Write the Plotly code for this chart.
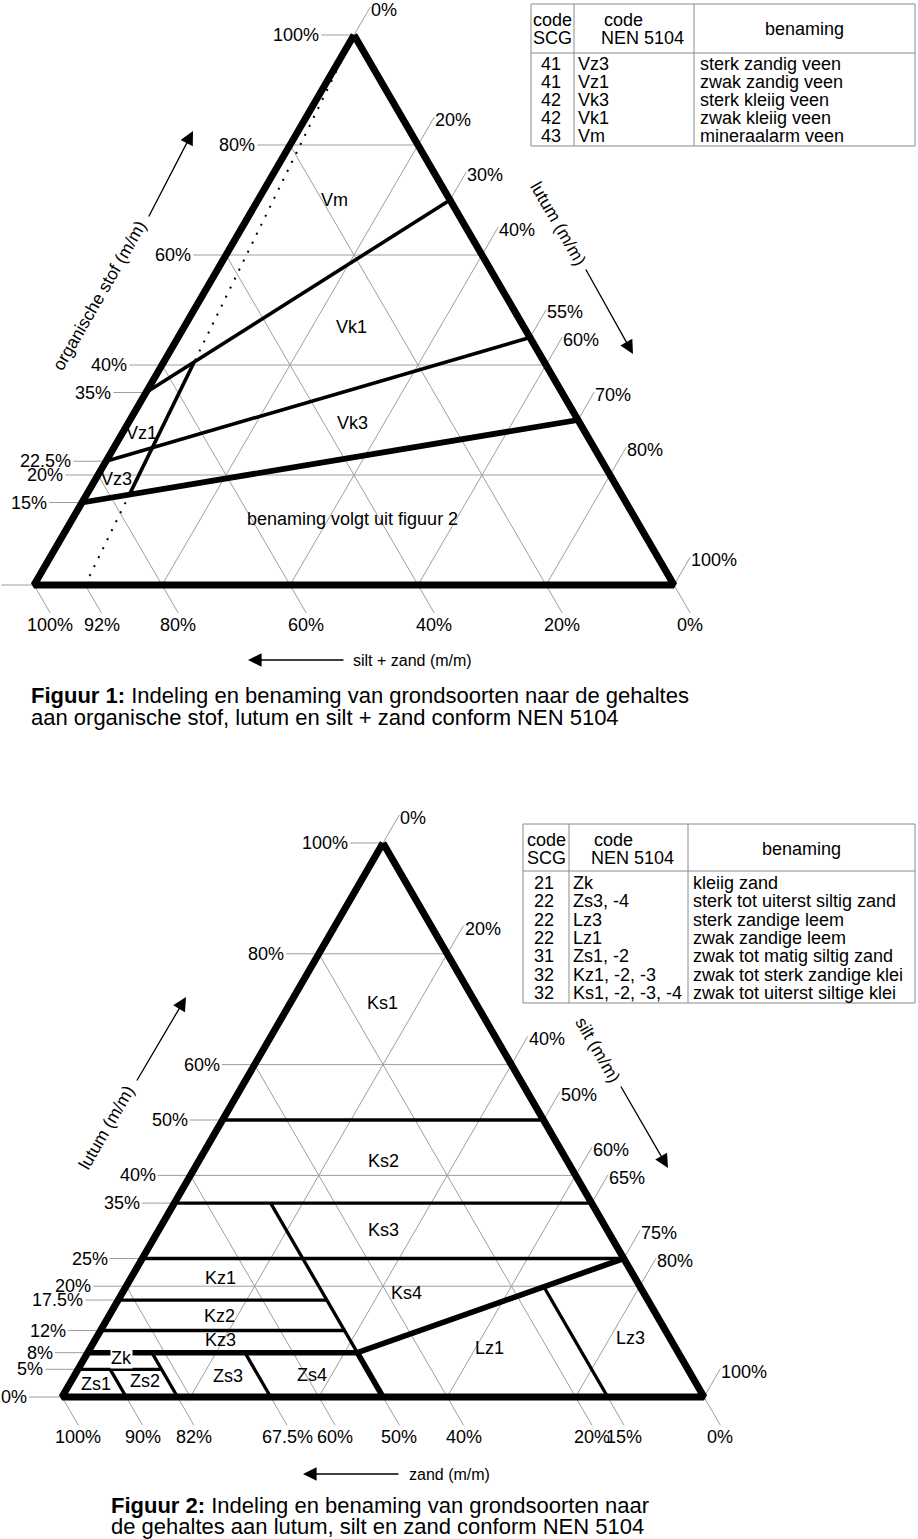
import plotly.graph_objects as go

FONT = "Liberation Sans, Arial, Helvetica, sans-serif"

# ---------------- Figuur 1 : organische stof / lutum / silt + zand ----------------
F1_ORG_TICKS = [100, 80, 60, 40, 35, 22.5, 20, 15, 0]
F1_ORG_LABELS = ["100%", "80%", "60%", "40%", "35%", "22.5%", "20%", "15%", ""]
F1_LUT_TICKS = [0, 20, 30, 40, 55, 60, 70, 80, 100]
F1_LUT_LABELS = ["0%", "20%", "30%", "40%", "55%", "60%", "70%", "80%", "100%"]
F1_SZ_TICKS = [100, 92, 80, 60, 40, 20, 0]
F1_SZ_LABELS = ["100%", "92%", "80%", "60%", "40%", "20%", "0%"]
F1_GRID = [20, 40, 60, 80]

# class boundaries: organische stof at lutum 0  ->  (organische stof, lutum) on the right edge
F1_BOUND_ORG_LEFT = [15, 22.5, 35]
F1_BOUND_ORG_RIGHT = [30, 45, 70]
F1_BOUND_LUT_RIGHT = [70, 55, 30]
F1_BOUND_HEAVY = [True, False, False]
F1_SPLIT_SZ = 92  # silt + zand at the base of the zandig / kleiig split line

F1_REGION_NAMES = ["Vm", "Vk1", "Vk3", "Vz1", "Vz3", "benaming volgt uit figuur 2"]
F1_REGION_ORG = [70, 46.9, 29.5, 27.6, 19.3, 12]
F1_REGION_LUT = [12, 26.2, 35, 3.0, 3.2, 43.8]

F1_TAB_SCG = ["41", "41", "42", "42", "43"]
F1_TAB_NEN = ["Vz3", "Vz1", "Vk3", "Vk1", "Vm"]
F1_TAB_NAME = ["sterk zandig veen", "zwak zandig veen", "sterk kleiig veen",
               "zwak kleiig veen", "mineraalarm veen"]

# ---------------- Figuur 2 : lutum / silt / zand ----------------
F2_LUT_TICKS = [100, 80, 60, 50, 40, 35, 25, 20, 17.5, 12, 8, 5, 0]
F2_LUT_LABELS = ["100%", "80%", "60%", "50%", "40%", "35%", "25%", "20%", "17.5%", "12%", "8%", "5%", "0%"]
F2_SILT_TICKS = [0, 20, 40, 50, 60, 65, 75, 80, 100]
F2_SILT_LABELS = ["0%", "20%", "40%", "50%", "60%", "65%", "75%", "80%", "100%"]
F2_ZAND_TICKS = [100, 90, 82, 67.5, 60, 50, 40, 20, 15, 0]
F2_ZAND_LABELS = ["100%", "90%", "82%", "67.5%", "60%", "50%", "40%", "20%", "15%", "0%"]
F2_GRID = [20, 40, 60, 80]

# horizontal (constant lutum) boundaries, from the left edge to the given zand value
F2_H_LUT = [50, 35, 25, 17.5, 12, 8, 5]
F2_H_ZAND_END = [0, 0, 0, 50, 50, 50, 82]
F2_H_HEAVY = [False, False, False, False, False, True, False]
# constant zand boundaries, from the lower lutum up to the given lutum
F2_Z_ZAND = [50, 50, 90, 82, 67.5]
F2_Z_LUT_LOW = [8, 0, 0, 0, 0]
F2_Z_LUT_TOP = [35, 8, 5, 8, 8]
F2_Z_HEAVY = [False, True, False, False, False]
# Ks4 / Lz boundary (lutum, zand) -> (lutum, zand)
F2_KL_LUT = [8, 25]
F2_KL_ZAND = [50, 0]
F2_LZ_ZAND = 15  # Lz1 / Lz3 boundary

F2_REGION_NAMES = ["Ks1", "Ks2", "Ks3", "Ks4", "Kz1", "Kz2", "Kz3", "Zk",
                   "Zs1", "Zs2", "Zs3", "Zs4", "Lz1", "Lz3"]
F2_REGION_LUT = [71.1, 42.6, 30.1, 18.8, 21.5, 14.6, 10.3, 7.0, 2.3, 2.9, 3.8, 4.0, 8.8, 10.6]
F2_REGION_SILT = [14.4, 28.7, 35.1, 44.3, 13.9, 17.3, 19.5, 5.8, 4.1, 11.5, 24.0, 37.0, 62.2, 83.2]

F2_TAB_SCG = ["21", "22", "22", "22", "31", "32", "32"]
F2_TAB_NEN = ["Zk", "Zs3, -4", "Lz3", "Lz1", "Zs1, -2", "Kz1, -2, -3", "Ks1, -2, -3, -4"]
F2_TAB_NAME = ["kleiig zand", "sterk tot uiterst siltig zand", "sterk zandige leem",
               "zwak zandige leem", "zwak tot matig siltig zand",
               "zwak tot sterk zandige klei", "zwak tot uiterst siltige klei"]

# ---------------- layout constants (page pixels) ----------------
W, H = 918, 1539
F1_BL, F1_BR, F1_TOP = (34, 585), (674, 585), (354, 35)
F2_BL, F2_BR, F2_TOP = (62, 1397), (704, 1397), (383, 843)
TL = 5.1            # tick length in ternary units
GRID_COL = "#9e9e9e"
TAB_COL = "#8a8a8a"
LBL = 18            # label font size
CAP = 22            # caption font size


def tern1(org, lut):
    sz = 100.0 - org - lut
    return ((sz * F1_BL[0] + lut * F1_BR[0] + org * F1_TOP[0]) / 100.0,
            (sz * F1_BL[1] + lut * F1_BR[1] + org * F1_TOP[1]) / 100.0)


def tern2(lut, zand):
    silt = 100.0 - lut - zand
    return ((zand * F2_BL[0] + silt * F2_BR[0] + lut * F2_TOP[0]) / 100.0,
            (zand * F2_BL[1] + silt * F2_BR[1] + lut * F2_TOP[1]) / 100.0)


def intersect(p, q, r, s):
    """intersection of line p-q with line r-s (2-D, any affine coordinates)"""
    d1 = (q[0] - p[0], q[1] - p[1])
    d2 = (s[0] - r[0], s[1] - r[1])
    den = d1[0] * d2[1] - d1[1] * d2[0]
    t = ((r[0] - p[0]) * d2[1] - (r[1] - p[1]) * d2[0]) / den
    return (p[0] + t * d1[0], p[1] + t * d1[1])


fig = go.Figure()


def add_segments(segs, width, color="black", dash=None):
    xs, ys = [], []
    for (a, b) in segs:
        xs += [a[0], b[0], None]
        ys += [a[1], b[1], None]
    fig.add_trace(go.Scatter(x=xs, y=ys, mode="lines",
                             line=dict(color=color, width=width, dash=dash),
                             hoverinfo="skip", showlegend=False))


ann = []


def text(x, y, s, size=LBL, xa="center", ya="middle", angle=0, xs=0, ys=0, bg=None):
    d = dict(x=x, y=y, xref="x", yref="y", text=s, showarrow=False, xanchor=xa,
             yanchor=ya, textangle=angle, xshift=xs, yshift=ys,
             font=dict(family=FONT, size=size, color="black"), borderpad=0)
    if bg:
        d["bgcolor"] = bg
    ann.append(d)


def arrow(tip, tail):
    ann.append(dict(x=tip[0], y=tip[1], ax=tail[0], ay=tail[1], xref="x", yref="y",
                    axref="x", ayref="y", text="", showarrow=True, arrowhead=2,
                    arrowsize=2.1, arrowwidth=1.3, arrowcolor="black", standoff=0,
                    startstandoff=0))


# =========================== FIGUUR 1 ===========================
grid = []
for g in F1_GRID:
    grid.append((tern1(g, 0), tern1(g, 100 - g)))          # organische stof
    grid.append((tern1(0, g), tern1(100 - g, g)))          # lutum
    grid.append((tern1(0, 100 - g), tern1(100 - g, 0)))    # silt + zand
ticks = []
for v in F1_ORG_TICKS:
    ticks.append((tern1(v, 0), tern1(v, -TL)))
for v in F1_LUT_TICKS:
    ticks.append((tern1(100 - v, v), tern1(100 - v + TL, v)))
for v in F1_SZ_TICKS:
    ticks.append((tern1(0, 100 - v), tern1(-TL, 100 - v + TL)))
add_segments(grid + ticks, 1, GRID_COL)

# dotted split line (constant lutum share of the mineral part)
split_bot = (0.0, 100.0 - F1_SPLIT_SZ)   # (org, lut)
split_top = (100.0, 0.0)
add_segments([(tern1(*split_bot), tern1(*split_top))], 2, "black", dash="2px,8px")

normal, heavy = [], []
bounds_ol = []
for a, b, c, hv in zip(F1_BOUND_ORG_LEFT, F1_BOUND_ORG_RIGHT, F1_BOUND_LUT_RIGHT, F1_BOUND_HEAVY):
    p, q = (a, 0.0), (b, c)
    bounds_ol.append((p, q))
    (heavy if hv else normal).append((tern1(*p), tern1(*q)))
lo = intersect(split_bot, split_top, *bounds_ol[0])
hi = intersect(split_bot, split_top, *bounds_ol[2])
normal.append((tern1(*lo), tern1(*hi)))
add_segments(normal, 3.6)
add_segments(heavy, 5.8)
outer1 = [tern1(100, 0), tern1(0, 100), tern1(0, 0), tern1(100, 0)]
fig.add_trace(go.Scatter(x=[p[0] for p in outer1], y=[p[1] for p in outer1], mode="lines",
                         line=dict(color="black", width=7), hoverinfo="skip", showlegend=False))

for v, s in zip(F1_ORG_TICKS, F1_ORG_LABELS):
    if s:
        x, y = tern1(v, -TL)
        text(x, y, s, xa="right", xs=-1)
for v, s in zip(F1_LUT_TICKS, F1_LUT_LABELS):
    x, y = tern1(100 - v + TL, v)
    text(x, y, s, xa="left", ys=-3)
for v, s in zip(F1_SZ_TICKS, F1_SZ_LABELS):
    x, y = tern1(-TL, 100 - v + TL)
    text(x, y, s, ya="top", ys=-1)
for n, o, l in zip(F1_REGION_NAMES, F1_REGION_ORG, F1_REGION_LUT):
    x, y = tern1(o, l)
    text(x, y, n)

text(99, 296, "organische stof (m/m)", size=17.5, angle=-60)
arrow((193, 131), (148, 218))
text(558, 223, "lutum (m/m)", size=17.5, angle=60)
arrow((633, 354), (585, 268))
arrow((248, 660), (345, 660))
text(352, 660, "silt + zand (m/m)", size=16, xa="left")
text(30, 695, "<b>Figuur 1:</b> Indeling en benaming van grondsoorten naar de gehaltes", size=CAP, xa="left")
text(30, 717, "aan organische stof, lutum en silt + zand conform NEN 5104", size=CAP, xa="left")

# =========================== FIGUUR 2 ===========================
grid = []
for g in F2_GRID:
    grid.append((tern2(g, 100 - g), tern2(g, 0)))          # lutum
    grid.append((tern2(0, g), tern2(100 - g, g)))          # zand
    grid.append((tern2(0, 100 - g), tern2(100 - g, 0)))    # silt
ticks = []
for v in F2_LUT_TICKS:
    ticks.append((tern2(v, 100 - v), tern2(v, 100 - v + TL)))
for v in F2_SILT_TICKS:
    ticks.append((tern2(100 - v, 0), tern2(100 - v + TL, -TL)))
for v in F2_ZAND_TICKS:
    ticks.append((tern2(0, v), tern2(-TL, v)))
add_segments(grid + ticks, 1, GRID_COL)

normal, heavy = [], []
for l, ze, hv in zip(F2_H_LUT, F2_H_ZAND_END, F2_H_HEAVY):
    (heavy if hv else normal).append((tern2(l, 100 - l), tern2(l, ze)))
for z, l0, l1, hv in zip(F2_Z_ZAND, F2_Z_LUT_LOW, F2_Z_LUT_TOP, F2_Z_HEAVY):
    (heavy if hv else normal).append((tern2(l0, z), tern2(l1, z)))
kl_a = (F2_KL_LUT[0], F2_KL_ZAND[0])
kl_b = (F2_KL_LUT[1], F2_KL_ZAND[1])
heavy.append((tern2(*kl_a), tern2(*kl_b)))
lz_top = intersect((0.0, F2_LZ_ZAND), (100.0 - F2_LZ_ZAND, F2_LZ_ZAND), kl_a, kl_b)
normal.append((tern2(0, F2_LZ_ZAND), tern2(*lz_top)))
add_segments(normal, 3.3)
add_segments(heavy, 5.6)
outer2 = [tern2(100, 0), tern2(0, 0), tern2(0, 100), tern2(100, 0)]
fig.add_trace(go.Scatter(x=[p[0] for p in outer2], y=[p[1] for p in outer2], mode="lines",
                         line=dict(color="black", width=7), hoverinfo="skip", showlegend=False))

for v, s in zip(F2_LUT_TICKS, F2_LUT_LABELS):
    x, y = tern2(v, 100 - v + TL)
    text(x, y, s, xa="right", xs=-1)
for v, s in zip(F2_SILT_TICKS, F2_SILT_LABELS):
    x, y = tern2(100 - v + TL, -TL)
    text(x, y, s, xa="left", ys=-3)
for v, s in zip(F2_ZAND_TICKS, F2_ZAND_LABELS):
    x, y = tern2(-TL, v)
    text(x, y, s, ya="top", ys=-1)
for n, l, si in zip(F2_REGION_NAMES, F2_REGION_LUT, F2_REGION_SILT):
    x, y = tern2(l, 100 - l - si)
    text(x, y, n, bg="white" if n == "Zk" else None)

text(106, 1128, "lutum (m/m)", size=17.5, angle=-60)
arrow((186, 997), (136, 1082))
text(598, 1050, "silt (m/m)", size=17.5, angle=60)
arrow((668, 1168), (620, 1085))
arrow((303, 1474), (400, 1474))
text(408, 1474, "zand (m/m)", size=16, xa="left")
text(110, 1505, "<b>Figuur 2:</b> Indeling en benaming van grondsoorten naar", size=CAP, xa="left")
text(110, 1526, "de gehaltes aan lutum, silt en zand conform NEN 5104", size=CAP, xa="left")

# =========================== TABLES ===========================
shapes = []


def table(x0, x1, y0, y1, c1, c2, yh, hdr_y, row_y0, pitch, scg, nen, name,
          scg_x, nen_x, name_x, hdr2_x):
    shapes.append(dict(type="rect", xref="x", yref="y", x0=x0, x1=x1, y0=y0, y1=y1,
                       line=dict(color=TAB_COL, width=1)))
    for cx in (c1, c2):
        shapes.append(dict(type="line", xref="x", yref="y", x0=cx, x1=cx, y0=y0, y1=y1,
                           line=dict(color=TAB_COL, width=1)))
    shapes.append(dict(type="line", xref="x", yref="y", x0=x0, x1=x1, y0=yh, y1=yh,
                       line=dict(color=TAB_COL, width=1)))
    text((x0 + c1) / 2, hdr_y[0], "code")
    text((x0 + c1) / 2, hdr_y[1], "SCG")
    text(hdr2_x + 3, hdr_y[0], "code", xa="left")
    text(hdr2_x, hdr_y[1], "NEN 5104", xa="left")
    text((c2 + x1) / 2, (hdr_y[0] + hdr_y[1]) / 2, "benaming")
    for i, (a, b, c) in enumerate(zip(scg, nen, name)):
        y = row_y0 + i * pitch
        text(scg_x, y, a)
        text(nen_x, y, b, xa="left")
        text(name_x, y, c, xa="left")


table(531, 915, 4, 146, 574, 694, 53, (20, 38), 63.5, 18, F1_TAB_SCG, F1_TAB_NEN, F1_TAB_NAME,
      551, 577, 699, 600)
table(523, 915, 824, 1003, 569, 688, 871, (840, 858), 883, 18.3, F2_TAB_SCG, F2_TAB_NEN, F2_TAB_NAME,
      544, 572, 692, 590)

fig.update_layout(
    width=W, height=H, margin=dict(l=0, r=0, t=0, b=0),
    paper_bgcolor="white", plot_bgcolor="white",
    xaxis=dict(range=[0, W], visible=False, fixedrange=True),
    yaxis=dict(range=[H, 0], visible=False, fixedrange=True),
    annotations=ann, shapes=shapes, showlegend=False,
)

fig.write_html("out.html", config={"displayModeBar": False, "staticPlot": True},
               post_script="document.body.style.margin='0px';")
